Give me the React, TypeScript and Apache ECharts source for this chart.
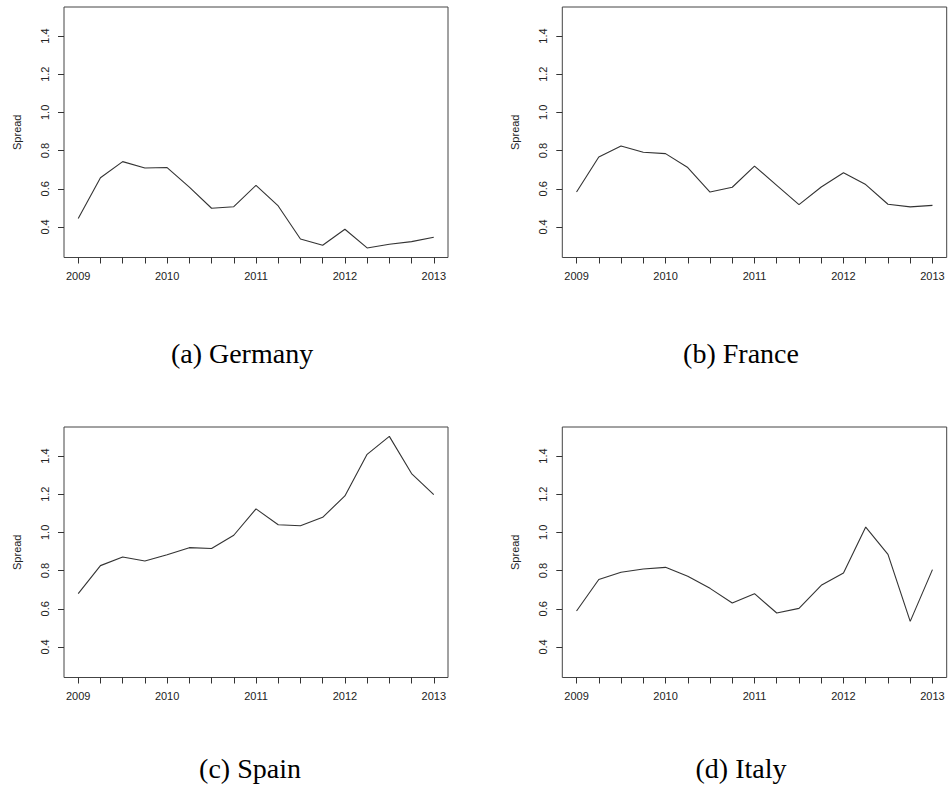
import React, { useEffect, useRef } from "react";
import * as echarts from "echarts";

const quarters = [
  2009, 2009.25, 2009.5, 2009.75, 2010, 2010.25, 2010.5, 2010.75, 2011,
  2011.25, 2011.5, 2011.75, 2012, 2012.25, 2012.5, 2012.75, 2013,
];
const yearLabels = [2009, 2010, 2011, 2012, 2013];
const yTicks = [0.4, 0.6, 0.8, 1.0, 1.2, 1.4];

const germany = [0.444, 0.658, 0.742, 0.709, 0.711, 0.609, 0.498, 0.506, 0.618, 0.51, 0.337, 0.304, 0.388, 0.29, 0.309, 0.323, 0.346];
const france = [0.583, 0.766, 0.824, 0.791, 0.784, 0.711, 0.583, 0.608, 0.719, 0.618, 0.517, 0.609, 0.684, 0.622, 0.519, 0.505, 0.513];
const spain = [0.679, 0.826, 0.871, 0.85, 0.883, 0.92, 0.916, 0.985, 1.123, 1.04, 1.035, 1.079, 1.191, 1.409, 1.503, 1.308, 1.198];
const italy = [0.588, 0.753, 0.791, 0.808, 0.817, 0.77, 0.707, 0.63, 0.679, 0.578, 0.602, 0.723, 0.787, 1.028, 0.885, 0.534, 0.805];

const captions = ["(a) Germany", "(b) France", "(c) Spain", "(d) Italy"];
const yName = "Spread";

const panels = [germany, france, spain, italy];
const grids = [
  { left: 64, top: 7, width: 384, height: 250.5 },
  { left: 562.3, top: 7, width: 384.4, height: 250.5 },
  { left: 64, top: 427, width: 384, height: 250.5 },
  { left: 562.3, top: 427, width: 384.4, height: 250.5 },
];
const captionPos = [
  { x: 242, y: 363.3 },
  { x: 741, y: 363.3 },
  { x: 250, y: 778.3 },
  { x: 741, y: 778.3 },
];

const INK = "#333";
const SANS = "'Liberation Sans', Arial, sans-serif";
const SERIF = "'Liberation Serif', 'Times New Roman', serif";

export default function App() {
  const ref = useRef<HTMLDivElement>(null);
  useEffect(() => {
    document.body.style.margin = "0";
    if (!ref.current) return;
    const chart = echarts.init(ref.current, undefined, { renderer: "svg" });
    const option: any = {
      animation: false,
      backgroundColor: "#fff",
      grid: grids.map((g) => ({
        ...g,
        show: true,
        borderColor: "#444",
        borderWidth: 1,
        backgroundColor: "transparent",
        containLabel: false,
      })),
      xAxis: grids.map((_, i) => ({
        type: "value",
        gridIndex: i,
        min: 2008.84,
        max: 2013.16,
        axisLine: { show: false },
        splitLine: { show: false },
        axisTick: {
          show: true,
          customValues: quarters,
          length: 6,
          lineStyle: { color: INK, width: 1 },
        },
        axisLabel: {
          customValues: yearLabels,
          formatter: (v: number) => String(Math.round(v)),
          margin: 13,
          fontSize: 11,
          fontFamily: SANS,
          color: "#222",
        },
      })),
      yAxis: grids.map((_, i) => ({
        type: "value",
        gridIndex: i,
        min: 0.24,
        max: 1.552,
        axisLine: { show: false },
        splitLine: { show: false },
        axisTick: {
          show: true,
          customValues: yTicks,
          length: 6,
          lineStyle: { color: INK, width: 1 },
        },
        axisLabel: {
          customValues: yTicks,
          formatter: (v: number) => v.toFixed(1),
          rotate: 90,
          margin: 14,
          fontSize: 11,
          fontFamily: SANS,
          color: "#222",
        },
      })),
      series: panels.map((vals, i) => ({
        type: "line",
        xAxisIndex: i,
        yAxisIndex: i,
        data: quarters.map((q, k) => [q, vals[k]]),
        showSymbol: false,
        symbol: "none",
        lineStyle: { color: INK, width: 1.1 },
        silent: true,
      })),
      graphic: [
        ...grids.map((g) => ({
          type: "text",
          x: g.left - 47.3,
          y: g.top + g.height / 2,
          rotation: Math.PI / 2,
          style: {
            text: yName,
            font: `11px ${SANS}`,
            fill: "#222",
            textAlign: "center",
            textVerticalAlign: "middle",
          },
        })),
        ...captions.map((c, i) => ({
          type: "text",
          x: captionPos[i].x,
          y: captionPos[i].y - 9.4,
          style: {
            text: c,
            font: `28px ${SERIF}`,
            fill: "#000",
            textAlign: "center",
            textVerticalAlign: "middle",
          },
        })),
      ],
    };
    chart.setOption(option);
    return () => chart.dispose();
  }, []);
  return <div ref={ref} style={{ width: 948, height: 792 }} />;
}
